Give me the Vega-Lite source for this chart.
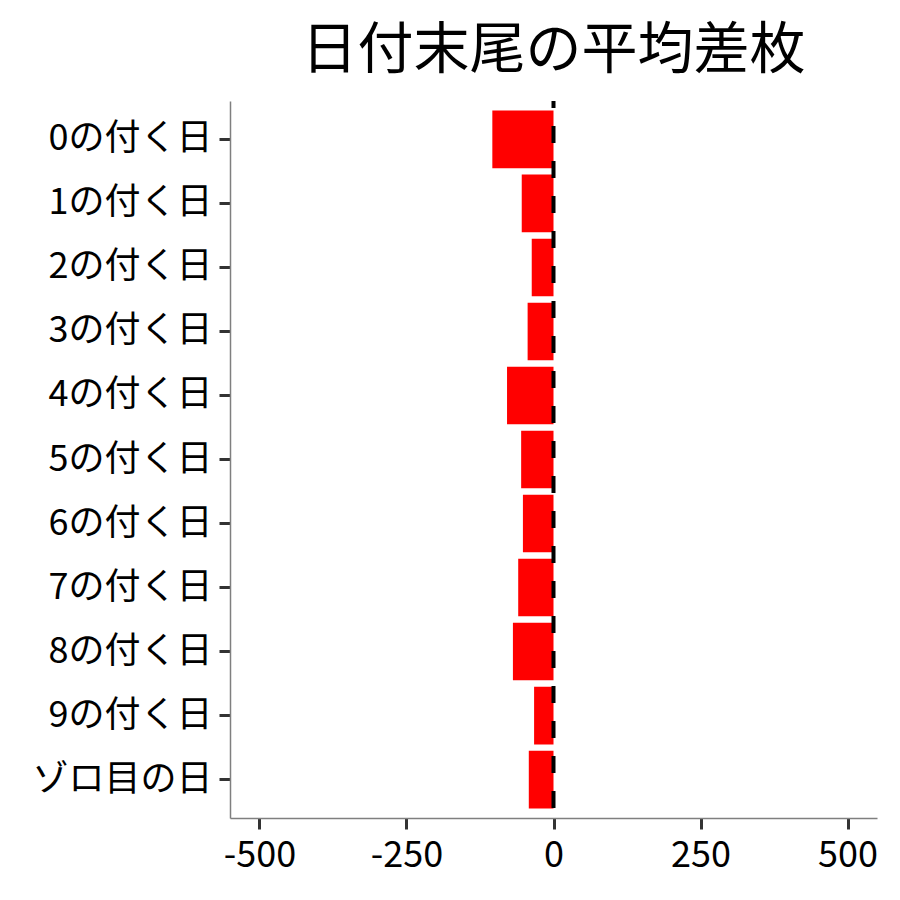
{
  "$schema": "https://vega.github.io/schema/vega-lite/v6.json",
  "autosize": {"type": "none"},
  "padding": {"left": 230, "top": 101, "right": 23, "bottom": 82},
  "width": 647,
  "height": 717,
  "background": "white",
  "title": {
    "text": "日付末尾の平均差枚",
    "anchor": "middle",
    "font": "Noto Sans CJK JP",
    "fontSize": 56,
    "fontWeight": "normal",
    "color": "black",
    "baseline": "alphabetic",
    "offset": -25
  },
  "config": {
    "view": {"stroke": null},
    "axis": {
      "labelFont": "Noto Sans CJK JP",
      "labelFontSize": 36,
      "labelColor": "black",
      "labelLimit": 0,
      "domainColor": "#7f7f7f",
      "domainWidth": 1.5,
      "tickColor": "#333333",
      "tickWidth": 3,
      "tickSize": 11,
      "grid": false,
      "title": null
    }
  },
  "layer": [
    {
      "data": {
        "values": [
          {"day": "0の付く日", "diff": -104},
          {"day": "1の付く日", "diff": -54},
          {"day": "2の付く日", "diff": -37},
          {"day": "3の付く日", "diff": -44},
          {"day": "4の付く日", "diff": -79},
          {"day": "5の付く日", "diff": -55},
          {"day": "6の付く日", "diff": -52},
          {"day": "7の付く日", "diff": -60},
          {"day": "8の付く日", "diff": -69},
          {"day": "9の付く日", "diff": -33},
          {"day": "ゾロ目の日", "diff": -42}
        ]
      },
      "mark": {"type": "bar", "color": "#ff0000"},
      "encoding": {
        "y": {
          "field": "day",
          "type": "nominal",
          "sort": null,
          "scale": {"paddingInner": 0.1, "paddingOuter": 0.15},
          "axis": {"labelPadding": 7}
        },
        "x": {
          "field": "diff",
          "type": "quantitative",
          "scale": {"domain": [-550, 550], "nice": false},
          "axis": {
            "values": [-500, -250, 0, 250, 500],
            "labelExpr": "'' + datum.value",
            "labelPadding": 9,
            "labelFlush": false
          }
        }
      }
    },
    {
      "data": {"values": [{"zero": 0}]},
      "mark": {"type": "rule", "color": "black", "strokeWidth": 4, "strokeDash": [17, 18], "strokeDashOffset": 10},
      "encoding": {
        "x": {"field": "zero", "type": "quantitative"}
      }
    }
  ]
}
